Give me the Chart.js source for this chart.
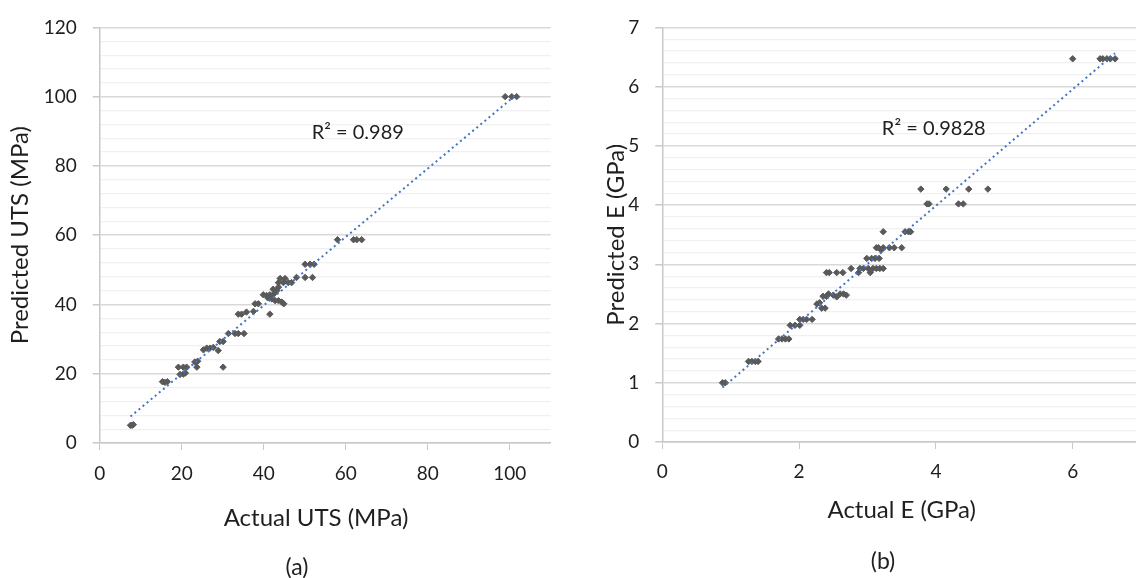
<!DOCTYPE html>
<html>
<head>
<meta charset="utf-8">
<script src="https://cdn.jsdelivr.net/npm/chart.js@4"></script>
<style>
  html, body { margin: 0; padding: 0; background: #fff; }
  body { width: 1136px; height: 578px; position: relative; overflow: hidden; font-family: Lato, sans-serif; }
  canvas { position: absolute; top: 0; }
  #chartA { left: 0; }
  #chartB { left: 580px; }
  .caption { position: absolute; font-size: 23px; color: #1f1f1f; transform: translate(-50%, -50%); }
</style>
</head>
<body>
<canvas id="chartA" width="560" height="578"></canvas>
<canvas id="chartB" width="570" height="578"></canvas>
<div class="caption" style="left:297px; top:566px;">(a)</div>
<div class="caption" style="left:883px; top:560px;">(b)</div>
<script>
// ultimate tensile strength, MPa
const utsActual = [
  7.5, 7.9, 8.2, 15.3, 15.9, 16.5, 19.2, 20.4, 21.2, 19.6, 20.4, 20.9,
  23.2, 23.9, 23.7, 25.3, 26.1, 26.9, 27.7, 28.9, 29.3, 30.1, 30.1,
  31.4, 33.0, 33.8, 35.2, 33.8, 34.6, 35.8, 37.5, 37.9, 38.7,
  39.9, 40.7, 41.5, 41.9, 41.5, 42.3, 43.2, 42.8, 43.6, 44.4, 44.9,
  44.0, 45.2, 43.6, 44.8, 46.0, 46.8, 48.0, 50.1, 51.9, 50.1, 51.3, 52.3,
  58.0, 61.9, 62.7, 63.9, 98.9, 100.5, 101.7, 42.6, 43.6, 41.0, 42.0
];
const utsPredicted = [
  5.1, 5.1, 5.3, 17.7, 17.5, 17.7, 21.9, 21.9, 21.9, 19.8, 19.9, 20.2,
  23.4, 23.6, 21.9, 26.9, 27.4, 27.4, 27.6, 26.7, 29.3, 29.3, 21.9,
  31.6, 31.6, 31.6, 31.6, 37.2, 37.2, 37.8, 38.0, 40.2, 40.2,
  42.8, 42.6, 42.8, 42.2, 37.2, 44.4, 44.0, 41.1, 41.1, 40.7, 40.2,
  47.5, 47.5, 46.3, 46.3, 46.3, 46.3, 47.8, 47.8, 47.8, 51.6, 51.6, 51.6,
  58.7, 58.7, 58.7, 58.7, 100.0, 100.0, 100.0, 43.2, 45.0, 41.9, 41.6
];
const utsTicks = [0, 20, 40, 60, 80, 100];

// elastic modulus, GPa
const eActual = [
  0.88, 0.92, 1.26, 1.31, 1.36, 1.40, 1.70, 1.75, 1.80, 1.85, 1.87, 1.94,
  2.01, 2.01, 2.06, 2.11, 2.19, 2.26, 2.30, 2.33, 2.38, 2.35, 2.40, 2.43,
  2.50, 2.55, 2.60, 2.65, 2.69, 2.40, 2.44, 2.55, 2.64, 2.76, 2.87, 2.89,
  2.94, 3.01, 3.04, 3.08, 3.13, 3.18, 3.23, 2.99, 3.06, 3.11, 3.17, 3.13,
  3.16, 3.20, 3.23, 3.32, 3.39, 3.50, 3.23, 3.55, 3.60, 3.63, 3.78, 3.87,
  3.90, 4.15, 4.33, 4.40, 4.48, 4.76, 6.00, 6.40, 6.44, 6.50, 6.55, 6.62
];
const ePredicted = [
  1.00, 1.00, 1.36, 1.36, 1.36, 1.36, 1.74, 1.74, 1.74, 1.74, 1.97, 1.97,
  1.97, 2.07, 2.07, 2.07, 2.07, 2.33, 2.35, 2.26, 2.26, 2.46, 2.46, 2.50,
  2.48, 2.45, 2.50, 2.50, 2.48, 2.86, 2.86, 2.86, 2.86, 2.93, 2.86, 2.93,
  2.93, 2.93, 2.86, 2.93, 2.93, 2.93, 2.93, 3.10, 3.10, 3.10, 3.10, 3.28,
  3.28, 3.24, 3.28, 3.28, 3.28, 3.28, 3.55, 3.55, 3.55, 3.55, 4.27, 4.02,
  4.02, 4.27, 4.02, 4.02, 4.27, 4.27, 6.47, 6.47, 6.47, 6.47, 6.47, 6.47
];
const eTicks = [0, 2, 4, 6];

const r2Texts = ['R² = 0.989', 'R² = 0.9828'];

const FONT = 'Lato';
const TEXT = '#1f1f1f';
const AXIS = '#c8c8c8';

// least squares line over the data range
function fitLine(xs, ys) {
  const n = xs.length;
  const mx = xs.reduce((s, v) => s + v, 0) / n;
  const my = ys.reduce((s, v) => s + v, 0) / n;
  let sxy = 0, sxx = 0;
  xs.forEach((x, i) => {
    sxy += (x - mx) * (ys[i] - my);
    sxx += (x - mx) * (x - mx);
  });
  const slope = sxy / sxx;
  const icpt = my - slope * mx;
  const x0 = Math.min(...xs), x1 = Math.max(...xs);
  return [{ x: x0, y: icpt + slope * x0 }, { x: x1, y: icpt + slope * x1 }];
}

// writes the R² text at a spot given in data units
const r2Label = {
  id: 'r2Label',
  afterDatasetsDraw(chart, args, opts) {
    const { ctx, scales } = chart;
    ctx.save();
    ctx.font = `${opts.size}px ${FONT}`;
    ctx.fillStyle = TEXT;
    ctx.textAlign = 'left';
    ctx.textBaseline = 'middle';
    ctx.fillText(opts.text, scales.x.getPixelForValue(opts.x), scales.y.getPixelForValue(opts.y));
    ctx.restore();
  }
};

function makeChart(id, cfg) {
  const major = v => Math.abs(v / cfg.yMajor - Math.round(v / cfg.yMajor)) < 1e-6;
  const points = cfg.xs.map((x, i) => ({ x, y: cfg.ys[i] }));

  return new Chart(document.getElementById(id), {
    type: 'scatter',
    data: {
      datasets: [
        {
          type: 'line',
          data: fitLine(cfg.xs, cfg.ys),
          borderColor: '#4472C4',
          borderWidth: 2,
          borderDash: [2, 3.3],
          pointRadius: 0,
          order: 0
        },
        {
          data: points,
          pointStyle: 'rectRot',
          radius: 3.2,
          backgroundColor: '#595959',
          borderColor: '#595959',
          borderWidth: 1,
          order: 1
        }
      ]
    },
    options: {
      responsive: false,
      animation: false,
      layout: { padding: { top: cfg.padTop, right: cfg.padRight, left: 0, bottom: 0 } },
      plugins: {
        legend: { display: false },
        tooltip: { enabled: false },
        r2Label: cfg.label
      },
      scales: {
        x: {
          type: 'linear',
          min: 0,
          max: cfg.xMax,
          afterBuildTicks: axis => { axis.ticks = cfg.xTicks.map(value => ({ value })); },
          afterFit: axis => { axis.height = cfg.xAxisH; },
          ticks: { padding: cfg.xTickPad, color: TEXT, font: { family: FONT, size: 19 } },
          grid: { drawOnChartArea: false, tickLength: 7, color: AXIS },
          border: { color: AXIS, width: 1.5 },
          title: {
            display: true,
            text: cfg.xTitle,
            color: TEXT,
            font: { family: FONT, size: 24 },
            padding: { top: 0, bottom: cfg.xTitlePad }
          }
        },
        y: {
          min: 0,
          max: cfg.yMax,
          afterFit: axis => { axis.width = cfg.yAxisW; },
          ticks: {
            stepSize: cfg.yMinor,
            autoSkip: false,
            padding: 16,
            color: TEXT,
            font: { family: FONT, size: 19 },
            callback: v => major(v) ? String(Math.round(v)) : ''
          },
          grid: {
            tickLength: 7,
            color: c => c.tick && major(c.tick.value) ? '#d9d9d9' : '#f0f0f0',
            lineWidth: c => c.tick && major(c.tick.value) ? 1.5 : 1.2,
            tickColor: c => c.tick && major(c.tick.value) ? AXIS : 'rgba(0,0,0,0)'
          },
          border: { color: AXIS, width: 1.5 },
          title: {
            display: true,
            text: cfg.yTitle,
            color: TEXT,
            font: { family: FONT, size: 24 },
            padding: { top: cfg.yTitlePad, bottom: 0 }
          }
        }
      }
    },
    plugins: [r2Label]
  });
}

makeChart('chartA', {
  xs: utsActual, ys: utsPredicted, xTicks: utsTicks,
  xMax: 110, yMax: 120, yMajor: 20, yMinor: 4,
  xTitle: 'Actual UTS (MPa)   ', yTitle: 'Predicted UTS (MPa)',
  padTop: 21, padRight: 9.3, yAxisW: 99.7, xAxisH: 135,
  xTickPad: 12, xTitlePad: 45.6, yTitlePad: 5.6,
  label: { text: r2Texts[0], x: 51.7, y: 89.5, size: 20 }
});

makeChart('chartB', {
  xs: eActual, ys: ePredicted, xTicks: eTicks,
  xMax: 7, yMax: 7, yMajor: 1, yMinor: 0.2,
  xTitle: 'Actual E (GPa)', yTitle: 'Predicted E (GPa)',
  padTop: 23.3, padRight: 8.9, yAxisW: 82.3, xAxisH: 136,
  xTickPad: 11, xTitlePad: 53.6, yTitlePad: 22.3,
  label: { text: r2Texts[1], x: 3.21, y: 5.30, size: 20 }
});
</script>
</body>
</html>
